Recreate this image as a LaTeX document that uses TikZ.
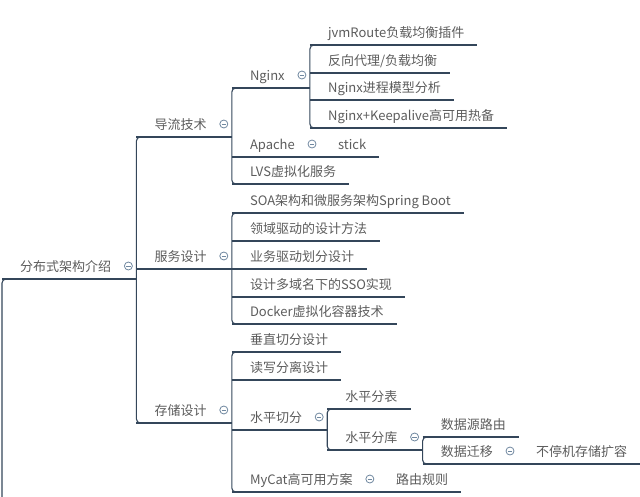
\documentclass[tikz,border=0pt]{standalone}
\usepackage{fontspec}
\setmainfont{Noto Sans CJK SC}
\usetikzlibrary{calc}
\definecolor{linecol}{HTML}{34465A}
\definecolor{textcol}{HTML}{5C5C5C}
\definecolor{foldcol}{HTML}{7088A0}

\begin{document}
\begin{tikzpicture}[x=1pt, y=-1pt]
\tikzset{topic/.style={anchor=south west, inner xsep=0pt, inner ysep=4pt, text=textcol, font=\fontsize{13}{15}\selectfont, text height=10pt, text depth=3.3pt, execute at begin node=\hspace*{18pt}, execute at end node=\hspace*{#1}},
  topic/.default=13pt,
  link/.style={draw=linecol, line width=1.1pt},
  bracket/.style={link, rounded corners=4pt},
  fold/.style={circle, draw=foldcol, line width=0.8pt, minimum size=8pt, inner sep=0pt, fill=white, path picture={\draw[foldcol, line width=0.8pt] ([xshift=-2.2pt]path picture bounding box.center) -- ([xshift=2.2pt]path picture bounding box.center);}}}
\useasboundingbox (0,0) rectangle (640,496);

\node[topic=25pt] (root) at (2,279) {分布式架构介绍};
\coordinate (offpage) at (2,500);
% first level
\node[topic=25pt] (daoliu) at (root.south east |- 0,137) {导流技术};
\node[topic=25pt] (fuwu) at (root.south east |- 0,269) {服务设计};
\node[topic=25pt] (cunchu) at (root.south east |- 0,423) {存储设计};
% 导流技术
\node[topic=25pt] (nginx) at (daoliu.south east |- 0,88) {Nginx};
\node[topic=25pt] (apache) at (daoliu.south east |- 0,157) {Apache};
\node[topic] (lvs) at (daoliu.south east |- 0,184) {LVS虚拟化服务};
\node[topic] (stick) at (apache.south east) {stick};
\node[topic] (jvm) at (nginx.south east |- 0,45) {jvmRoute负载均衡插件};
\node[topic] (fanxiang) at (nginx.south east |- 0,73) {反向代理/负载均衡};
\node[topic] (jincheng) at (nginx.south east |- 0,100) {Nginx进程模型分析};
\node[topic] (keep) at (nginx.south east |- 0,128) {Nginx+Keepalive高可用热备};
% 服务设计
\node[topic] (soa) at (fuwu.south east |- 0,213) {SOA架构和微服务架构Spring Boot};
\node[topic] (lingyu) at (fuwu.south east |- 0,241) {领域驱动的设计方法};
\node[topic] (yewu) at (fuwu.south east |- 0,269) {业务驱动划分设计};
\node[topic] (sso) at (fuwu.south east |- 0,297) {设计多域名下的SSO实现};
\node[topic] (docker) at (fuwu.south east |- 0,324) {Docker虚拟化容器技术};
% 存储设计
\node[topic] (chuizhi) at (cunchu.south east |- 0,352) {垂直切分设计};
\node[topic] (duxie) at (cunchu.south east |- 0,380) {读写分离设计};
\node[topic=25pt] (shuiping) at (cunchu.south east |- 0,430) {水平切分};
\node[topic=25pt] (mycat) at (cunchu.south east |- 0,492) {MyCat高可用方案};
\node[topic] (luyou) at (mycat.south east) {路由规则};
\node[topic] (fenbiao) at (shuiping.south east |- 0,409) {水平分表};
\node[topic=25pt] (fenku) at (shuiping.south east |- 0,450) {水平分库};
\node[topic] (yuan) at (fenku.south east |- 0,437) {数据源路由};
\node[topic=25pt] (qianyi) at (fenku.south east |- 0,464) {数据迁移};
\node[topic] (kuorong) at (qianyi.south east) {不停机存储扩容};

% underlines
\foreach \n in {root,daoliu,fuwu,cunchu,nginx,apache,lvs,stick,jvm,fanxiang,jincheng,keep,soa,lingyu,yewu,sso,docker,chuizhi,duxie,shuiping,mycat,luyou,fenbiao,fenku,yuan,qianyi,kuorong}
  \draw[link] (\n.south west) -- (\n.south east);
% brackets
\draw[bracket] (root.south east) -- (root.south west) -- (offpage);
\foreach \a/\b in {daoliu/cunchu,nginx/lvs,jvm/keep,soa/docker,chuizhi/mycat,fenbiao/fenku,yuan/qianyi}
  \draw[bracket] ([xshift=8pt]\a.south west) -- (\a.south west) -- (\b.south west) -- ([xshift=8pt]\b.south west);
% fold marks
\foreach \n in {root,daoliu,fuwu,cunchu,nginx,apache,shuiping,mycat,fenku,qianyi}
  \node[fold] (f-\n) at ([xshift=-8pt, yshift=13pt]\n.south east) {};

\end{tikzpicture}
\end{document}
